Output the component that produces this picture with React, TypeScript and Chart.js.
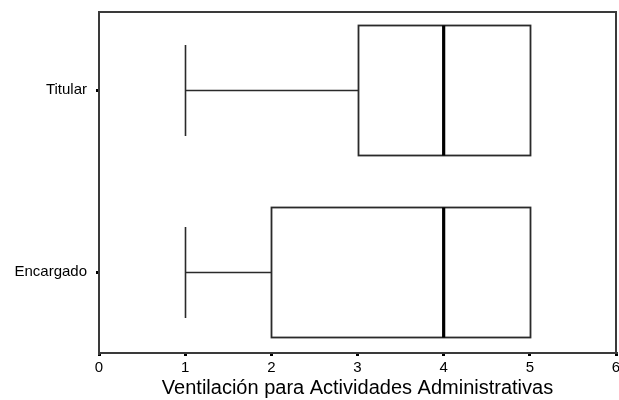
import React, { useEffect, useRef } from "react";
import { Chart, registerables } from "chart.js";

Chart.register(...registerables);

const categories = ["Titular", "Encargado"];
const minValues = [1, 1];
const q1Values = [3, 2];
const medianValues = [4, 4];
const q3Values = [5, 5];
const maxValues = [5, 5];
const xTickValues = [0, 1, 2, 3, 4, 5, 6];
const xTitle = "Ventilación para Actividades Administrativas";

const BOX_HALF = 0.357;
const CAP_HALF = 0.25;

const FONT = "'Liberation Sans', Arial, sans-serif";

const boxPlugin = {
  id: "boxPlugin",
  afterDatasetsDraw(chart: any) {
    const ctx = chart.ctx;
    const xs = chart.scales.x;
    const ys = chart.scales.y;
    const ca = chart.chartArea;
    ctx.save();
    ctx.strokeStyle = "#3a3a3a";
    ctx.lineWidth = 2;
    ctx.beginPath();
    ctx.moveTo(ca.left, ca.top);
    ctx.lineTo(ca.right, ca.top);
    ctx.lineTo(ca.right, ca.bottom);
    ctx.stroke();

    categories.forEach((_, i) => {
      const pos = categories.length - 1 - i;
      const yc = Math.round(ys.getPixelForValue(pos)) + 0.5;
      const yTop = Math.round(ys.getPixelForValue(pos + BOX_HALF)) + 0.5;
      const yBot = Math.round(ys.getPixelForValue(pos - BOX_HALF)) + 0.5;
      const capTop = Math.round(ys.getPixelForValue(pos + CAP_HALF));
      const capBot = Math.round(ys.getPixelForValue(pos - CAP_HALF));
      const xMin = Math.round(xs.getPixelForValue(minValues[i])) + 0.5;
      const xQ1 = Math.round(xs.getPixelForValue(q1Values[i])) + 0.5;
      const xMed = xs.getPixelForValue(medianValues[i]);
      const xQ3 = Math.round(xs.getPixelForValue(q3Values[i])) + 0.5;
      const xMax = Math.round(xs.getPixelForValue(maxValues[i])) + 0.5;

      ctx.strokeStyle = "#2a2a2a";
      ctx.lineWidth = 1.6;
      ctx.beginPath();
      ctx.moveTo(xMin, yc);
      ctx.lineTo(xQ1, yc);
      ctx.moveTo(xMin, capTop);
      ctx.lineTo(xMin, capBot);
      if (maxValues[i] > q3Values[i]) {
        ctx.moveTo(xQ3, yc);
        ctx.lineTo(xMax, yc);
        ctx.moveTo(xMax, capTop);
        ctx.lineTo(xMax, capBot);
      }
      ctx.stroke();
      ctx.lineWidth = 1.8;
      ctx.strokeRect(xQ1, yTop, xQ3 - xQ1, yBot - yTop);
      ctx.strokeStyle = "#000";
      ctx.lineWidth = 3.2;
      ctx.beginPath();
      ctx.moveTo(xMed, yTop);
      ctx.lineTo(xMed, yBot);
      ctx.stroke();
    });
    ctx.restore();
  },
};

const zeroPad = (s: any) => {
  s.paddingTop = 0;
  s.paddingBottom = 0;
  s.paddingLeft = 0;
  s.paddingRight = 0;
};

export default function App() {
  const ref = useRef<HTMLCanvasElement | null>(null);
  useEffect(() => {
    if (!ref.current) return;
    const chart = new Chart(ref.current, {
      type: "scatter",
      data: { datasets: [{ data: [], pointRadius: 0 }] },
      options: {
        animation: false,
        responsive: false,
        layout: { padding: { top: 12, right: 3, left: 0, bottom: 0 } },
        plugins: { legend: { display: false }, tooltip: { enabled: false } },
        scales: {
          x: {
            type: "linear",
            min: 0,
            max: 6,
            afterBuildTicks: (s: any) => {
              s.ticks = xTickValues.map((v) => ({ value: v }));
            },
            afterFit: (s: any) => {
              s.height = 47;
              zeroPad(s);
            },
            grid: {
              display: true,
              drawOnChartArea: false,
              drawTicks: true,
              tickLength: 3,
              color: "#000",
              lineWidth: 3,
            },
            border: { display: true, color: "#3a3a3a", width: 2 },
            ticks: {
              color: "#000",
              padding: 3,
              maxRotation: 0,
              font: { family: FONT, size: 15 },
            },
            title: {
              display: true,
              text: xTitle,
              color: "#000",
              padding: { top: 2, bottom: 0 },
              font: { family: FONT, size: 20 },
            },
          },
          y: {
            type: "linear",
            min: -0.445,
            max: 1.4286,
            afterBuildTicks: (s: any) => {
              s.ticks = categories.map((_, i) => ({ value: categories.length - 1 - i }));
            },
            afterFit: (s: any) => {
              s.width = 99;
              zeroPad(s);
            },
            grid: {
              display: true,
              drawOnChartArea: false,
              drawTicks: true,
              tickLength: 3,
              color: "#000",
              lineWidth: 3,
            },
            border: { display: true, color: "#3a3a3a", width: 2 },
            ticks: {
              color: "#000",
              padding: 9,
              callback: (v: any) => categories[categories.length - 1 - Number(v)],
              font: { family: FONT, size: 15 },
            },
          },
        },
      },
      plugins: [boxPlugin],
    } as any);
    return () => chart.destroy();
  }, []);
  return (
    <div style={{ position: "absolute", left: 0, top: 0, width: 619, height: 400, background: "#fff" }}>
      <canvas ref={ref} width={619} height={400} style={{ display: "block" }} />
    </div>
  );
}
